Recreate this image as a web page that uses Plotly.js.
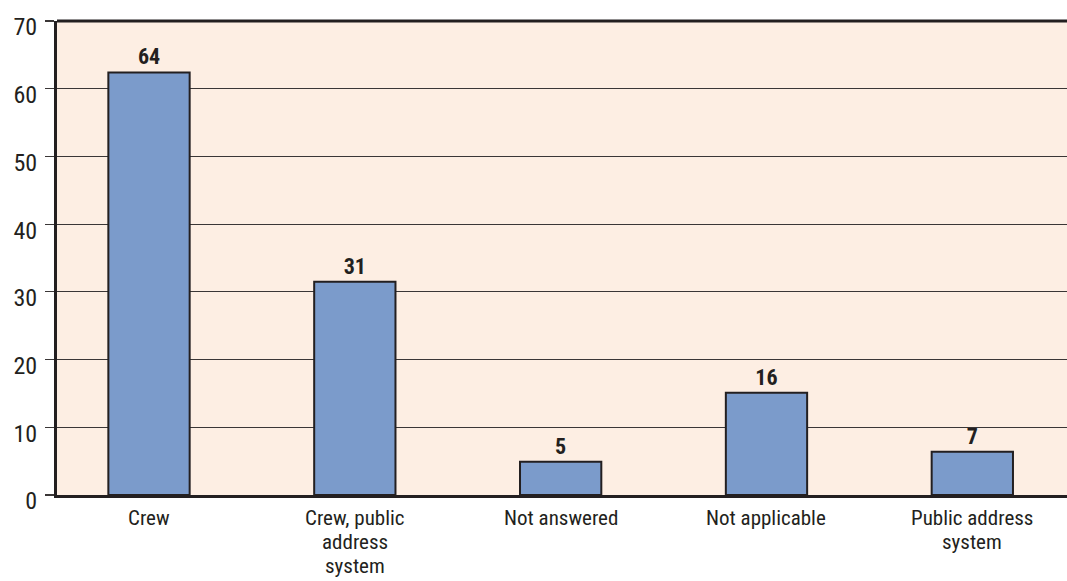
<!DOCTYPE html>
<html>
<head>
<meta charset="utf-8">
<script src="https://cdn.plot.ly/plotly-3.0.1.min.js"></script>
<style>
  html, body { margin: 0; padding: 0; background: #ffffff; }
  #chart { width: 1067px; height: 581px; }
</style>
</head>
<body>
<div id="chart"></div>
<script>
// Categories (tick labels) and values
const categories = ["Crew", "Crew, public<br>address<br>system", "Not answered", "Not applicable", "Public address<br>system"];
const barHeights = [62.4, 31.5, 4.9, 15.1, 6.4];   // drawn bar heights
const barLabels = ["64", "31", "5", "16", "7"];    // printed value labels
const yTicks = [0, 10, 20, 30, 40, 50, 60, 70];

const FONT = "'Liberation Sans Narrow', 'Roboto Condensed', 'Arial Narrow', Roboto, sans-serif";

const trace = {
  type: "bar",
  x: categories,
  y: barHeights,
  text: barLabels,
  texttemplate: "%{text}",
  textposition: "outside",
  textfont: { family: FONT, size: 22, color: "#231f20", weight: "bold" },
  cliponaxis: false,
  width: 0.395,
  marker: { color: "#7b9bcb", line: { color: "#231f20", width: 2 } },
  hoverinfo: "none"
};

// Category labels drawn line by line (tight line spacing as in the reference)
const labelAnnotations = [];
categories.forEach(function (cat) {
  cat.split("<br>").forEach(function (line, i) {
    labelAnnotations.push({
      x: cat, y: 0, xref: "x", yref: "y",
      text: line, showarrow: false,
      xanchor: "center", yanchor: "top",
      yshift: -9 - i * 24,
      font: { family: FONT, size: 21, color: "#231f20" }
    });
  });
});

const layout = {
  width: 1067,
  height: 581,
  margin: { l: 57, r: 0, t: 21, b: 86 },
  paper_bgcolor: "#ffffff",
  plot_bgcolor: "#fdeee3",
  showlegend: false,
  font: { family: FONT, color: "#231f20" },
  xaxis: {
    type: "category",
    range: [-0.447, 4.46],
    showline: true,
    linecolor: "#231f20",
    linewidth: 3,
    ticks: "",
    showgrid: false,
    showticklabels: false,
    fixedrange: true
  },
  yaxis: {
    range: [0, 70],
    tickvals: yTicks,
    ticktext: yTicks.map(String),
    showline: true,
    linecolor: "#231f20",
    linewidth: 3,
    ticks: "outside",
    ticklen: 9,
    tickwidth: 1.2,
    tickcolor: "#3a3636",
    showgrid: true,
    gridcolor: "#3a3636",
    gridwidth: 1.2,
    zeroline: false,
    tickfont: { family: FONT, size: 24, color: "#231f20" },
    ticklabelstandoff: 3,
    ticklabelshift: 6,
    fixedrange: true
  },
  annotations: labelAnnotations,
  shapes: [
    { type: "line", xref: "paper", yref: "paper", x0: 0, x1: 1, y0: 1, y1: 1,
      line: { color: "#231f20", width: 3 } }
  ]
};

Plotly.newPlot("chart", [trace], layout, { displayModeBar: false, staticPlot: true });
</script>
</body>
</html>
